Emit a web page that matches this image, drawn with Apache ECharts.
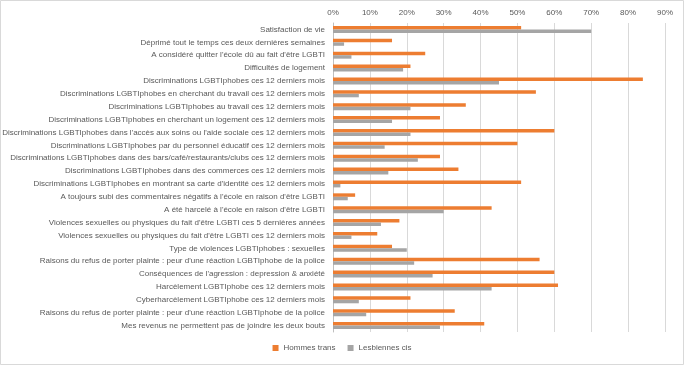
<!DOCTYPE html>
<html>
<head>
<meta charset="utf-8">
<script src="https://cdn.jsdelivr.net/npm/echarts@6/dist/echarts.min.js"></script>
<style>html,body{margin:0;padding:0;background:#fff}#c{width:684px;height:366px}</style>
</head>
<body>
<div id="c"></div>
<script>
const categories = [
  "Satisfaction de vie",
  "Déprimé tout le temps ces deux dernières semaines",
  "A considéré quitter l'école dû au fait d'être LGBTI",
  "Difficultés de logement",
  "Discriminations LGBTIphobes ces 12 derniers mois",
  "Discriminations LGBTIphobes en cherchant du travail ces 12 derniers mois",
  "Discriminations LGBTIphobes au travail ces 12 derniers mois",
  "Discriminations LGBTIphobes en cherchant un logement ces 12 derniers mois",
  "Discriminations LGBTIphobes dans l'accès aux soins ou l'aide sociale ces 12 derniers mois",
  "Discriminations LGBTIphobes par du personnel éducatif ces 12 derniers mois",
  "Discriminations LGBTIphobes dans des bars/café/restaurants/clubs ces 12 derniers mois",
  "Discriminations LGBTIphobes dans des commerces ces 12 derniers mois",
  "Discriminations LGBTIphobes en montrant sa carte d'identité ces 12 derniers mois",
  "A toujours subi des commentaires négatifs à l'école en raison d'être LGBTI",
  "A été harcelé à l'école en raison d'être LGBTI",
  "Violences sexuelles ou physiques du fait d'être LGBTI ces 5 dernières années",
  "Violences sexuelles ou physiques du fait d'être LGBTI ces 12 derniers mois",
  "Type de violences LGBTIphobes : sexuelles",
  "Raisons du refus de porter plainte : peur d'une réaction LGBTIphobe de la police",
  "Conséquences de l'agression : depression & anxiété",
  "Harcèlement LGBTIphobe ces 12 derniers mois",
  "Cyberharcèlement LGBTIphobe ces 12 derniers mois",
  "Raisons du refus de porter plainte : peur d'une réaction LGBTIphobe de la police",
  "Mes revenus ne permettent pas de joindre les deux bouts"
];
const hommesTrans = [51,16,25,21,84,55,36,29,60,50,29,34,51,6,43,18,12,16,56,60,61,21,33,41];
const lesbiennesCis = [70,3,5,19,45,7,21,16,21,14,23,15,2,4,30,13,5,20,22,27,43,7,9,29];
const seriesNames = ["Hommes trans","Lesbiennes cis"];

const font = "'Liberation Sans',Arial,sans-serif";
const fs = 8;
const chart = echarts.init(document.getElementById('c'), null, {renderer:'canvas'});
chart.setOption({
  animation:false,
  backgroundColor:'#fff',
  textStyle:{fontFamily:font},
  graphic:[{type:'rect',shape:{x:0.5,y:0.5,width:683,height:364},style:{fill:'none',stroke:'#d9d9d9',lineWidth:1},silent:true}],
  legend:{
    bottom:9, left:'center', icon:'rect', itemWidth:6, itemHeight:6, itemGap:12,
    textStyle:{color:'#595959',fontSize:fs,fontFamily:font},
    data:seriesNames
  },
  grid:{left:333,right:19,top:23,bottom:34,containLabel:false,outerBoundsMode:'none'},
  xAxis:{
    type:'value', position:'top', min:0, max:90, interval:10,
    axisLabel:{formatter:'{value}%',color:'#595959',fontSize:fs,fontFamily:font,margin:6},
    axisLine:{show:false}, axisTick:{show:false},
    splitLine:{lineStyle:{color:'#d9d9d9',width:1}}
  },
  yAxis:{
    type:'category', inverse:true, data:categories,
    axisTick:{show:false},
    axisLine:{lineStyle:{color:'#bfbfbf'}},
    axisLabel:{color:'#595959',fontSize:fs,fontFamily:font,margin:8,interval:0}
  },
  series:[
    {name:seriesNames[0],type:'bar',data:hommesTrans,itemStyle:{color:'#ED7D31'},barGap:'0%',barCategoryGap:'46%'},
    {name:seriesNames[1],type:'bar',data:lesbiennesCis,itemStyle:{color:'#A5A5A5'},barGap:'0%',barCategoryGap:'46%'}
  ]
});
</script>
</body>
</html>
